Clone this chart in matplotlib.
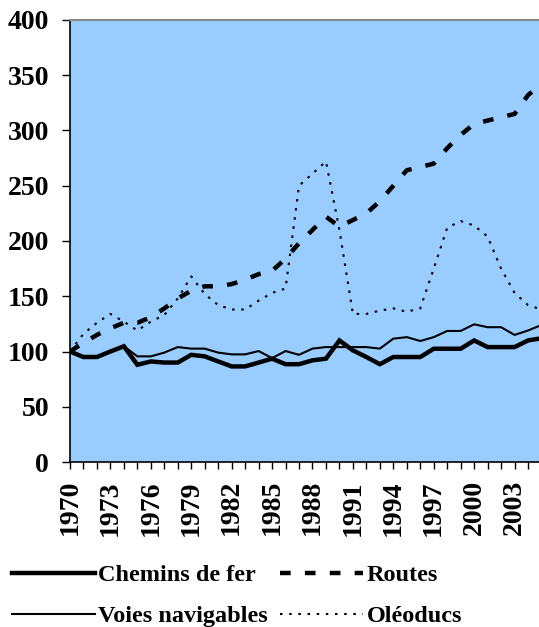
import matplotlib
matplotlib.use("Agg")
import matplotlib.pyplot as plt

plt.rcParams['font.family'] = ['Liberation Serif', 'DejaVu Serif']
plt.rcParams['font.weight'] = 'bold'

# Indices 1970 = 100
years = list(range(1970, 2006))
chemins = [100, 95, 95, 100, 104.7, 88, 91, 90, 90, 97, 95.6, 91, 86.5, 86.5, 90, 93.5,
           88.5, 88.5, 92, 93.5, 110, 101, 95, 88.5, 95, 95, 95, 102.5, 102.5, 102.5,
           110, 104, 104, 104, 110, 112]
voies = [100, 95, 95, 100, 104.7, 95.6, 95.6, 99, 104, 102.6, 102.6, 99, 97.4, 97.4, 100.4, 94,
         100.4, 97, 102.6, 104, 104, 104, 104, 102.6, 111.6, 113, 109.5, 113, 118.6, 118.6,
         124.6, 122, 122, 115, 119, 124]
routes = [100, 108, 115, 121, 126, 126, 131, 139, 148, 155, 159, 159, 161, 165, 170, 173,
          184, 198, 210, 222, 213, 219, 225, 236, 250, 264, 267, 270, 284, 296,
          306, 309, 312, 315, 332, 342]
oleoducs = [100, 116, 126, 134, 127, 119, 127, 133, 148, 168, 152, 142, 138, 138, 146, 153,
            157, 250, 261, 272, 210, 134, 134, 137, 139, 136, 139, 175, 212, 218,
            214, 204, 175, 153, 142, 138]
labels = ['Chemins de fer', 'Voies navigables', 'Routes', 'Oléoducs']

W, H = 539, 627
fig = plt.figure(figsize=(W / 100, H / 100), dpi=100)
ax = fig.add_axes([70 / W, 1 - 462 / H, 471.5 / W, 442 / H])
ax.set_facecolor('#99CCFF')

l1, = ax.plot(years, chemins, color='black', lw=3.2, solid_joinstyle='miter')
l2, = ax.plot(years, voies, color='black', lw=1.5)
l3, = ax.plot(years, routes, color='black', lw=3.2, linestyle=(0, (2.4, 3.2)))
l4, = ax.plot(years, oleoducs, color='black', lw=1.5, linestyle=(0, (1.2, 3.2)))

ax.set_xlim(1970, 2005)
ax.set_ylim(0, 400)
ax.set_yticks(range(0, 401, 50))
ax.set_xticks(years)
ax.set_xticklabels([str(y) if (y - 1970) % 3 == 0 else '' for y in years],
                   rotation=90, fontsize=20, fontweight='bold')
ax.tick_params(axis='y', labelsize=20, length=6, width=1, pad=9, direction='out')
ax.tick_params(axis='x', length=5, width=1, pad=8, direction='out')

ax.spines['top'].set_color('#888888')
ax.spines['top'].set_linewidth(1.5)
ax.spines['right'].set_visible(False)
ax.spines['left'].set_linewidth(1.2)
ax.spines['bottom'].set_linewidth(1.2)

# legend below the plot, second row sits at the bottom edge as in the source
fig.legend([l1, l2, l3, l4], labels, ncol=2, loc='upper left',
           bbox_to_anchor=(12 / W, 1 - 564 / H), frameon=False,
           prop={'family': 'Liberation Serif', 'weight': 'bold', 'size': 17.5},
           handlelength=3.4, handletextpad=0.15, columnspacing=0.5,
           labelspacing=0.8, borderpad=0, borderaxespad=0)

fig.savefig('out.png', dpi=100)
